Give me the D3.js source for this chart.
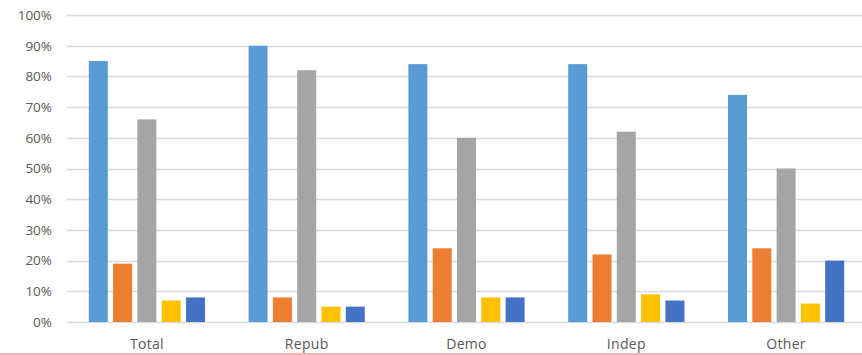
<!DOCTYPE html>
<html>
<head>
<meta charset="utf-8">
<script src="https://cdn.jsdelivr.net/npm/d3@7"></script>
<style>
  body { margin: 0; background: #fff; }
  svg { display: block; }
  .tick text { font-family: "Open Sans", "Liberation Sans", sans-serif; fill: #595959; }
</style>
</head>
<body>
<svg width="862" height="355"></svg>
<script>
var categories = ["Total", "Repub", "Demo", "Indep", "Other"];
var series = ["s1", "s2", "s3", "s4", "s5"];
var colors = ["#5b9bd5", "#ed7d31", "#a5a5a5", "#ffc000", "#4472c4"];
var s1 = [85, 90, 84, 84, 74];
var s2 = [19, 8, 24, 22, 24];
var s3 = [66, 82, 60, 62, 50];
var s4 = [7, 5, 8, 9, 6];
var s5 = [8, 5, 8, 7, 20];
var yTicks = [0, 10, 20, 30, 40, 50, 60, 70, 80, 90, 100];

var values = [s1, s2, s3, s4, s5];

var svg = d3.select("svg");
var plotLeft = 67, plotRight = 866, plotTop = 15, plotBottom = 322;

var x0 = d3.scaleBand().domain(categories).range([plotLeft, plotRight]);
var groupW = 121.5;
var x1 = d3.scaleBand().domain(series).range([0, groupW]);
var barW = 19;
var y = d3.scaleLinear().domain([0, 100]).range([plotBottom, plotTop]);

// gridlines
svg.append("g")
  .selectAll("line")
  .data(yTicks)
  .enter().append("line")
    .attr("x1", plotLeft)
    .attr("x2", 862)
    .attr("y1", function(d) { return Math.round(y(d)) + 0.5; })
    .attr("y2", function(d) { return Math.round(y(d)) + 0.5; })
    .attr("stroke", "#d9d9d9")
    .attr("stroke-width", 1.5);

// y axis labels
var yAxis = svg.append("g")
  .attr("transform", "translate(" + (plotLeft - 15) + ",0)")
  .call(d3.axisLeft(y).tickValues(yTicks).tickSize(0).tickPadding(0)
    .tickFormat(function(d) { return d + "%"; }));
yAxis.select(".domain").remove();
yAxis.selectAll("text").style("font-size", "13.5px");

// bars
var rows = [];
categories.forEach(function(c, i) {
  series.forEach(function(s, j) {
    rows.push({cat: c, ser: s, val: values[j][i], color: colors[j]});
  });
});

svg.append("g")
  .selectAll("rect")
  .data(rows)
  .enter().append("rect")
    .attr("x", function(d) {
      return x0(d.cat) + (x0.bandwidth() - groupW) / 2 + x1(d.ser) + (x1.bandwidth() - barW) / 2;
    })
    .attr("y", function(d) { return y(d.val); })
    .attr("width", barW)
    .attr("height", function(d) { return y(0) - y(d.val); })
    .attr("fill", function(d) { return d.color; });

// category labels
var xAxis = svg.append("g")
  .attr("transform", "translate(0," + (plotBottom + 17) + ")")
  .call(d3.axisBottom(x0).tickSize(0).tickPadding(0));
xAxis.select(".domain").remove();
xAxis.selectAll("text").style("font-size", "14px").style("letter-spacing", "0.3px");

// bottom border line
svg.append("line")
  .attr("x1", 0).attr("x2", 862)
  .attr("y1", 354).attr("y2", 354)
  .attr("stroke", "#e89a9a")
  .attr("stroke-width", 1.5);
</script>
</body>
</html>
